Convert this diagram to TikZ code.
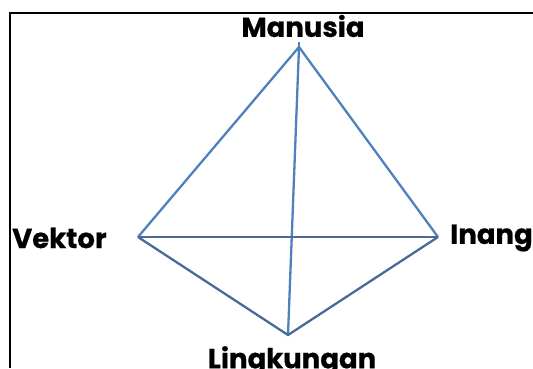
\documentclass[tikz,border=0pt]{standalone}
\usepackage{fontspec}
\setmainfont{Poppins}[BoldFont={* Bold}, BoldFeatures={FakeBold=0.6}]
\begin{document}
\begin{tikzpicture}[x=1pt,y=-1pt,
  lbl/.style={font=\bfseries\fontsize{27.5}{28}\selectfont, inner sep=0pt, text=black},
  upper/.style={draw={rgb,255:red,79;green,129;blue,189}, line width=2.3pt},
  lower/.style={draw={rgb,255:red,74;green,106;blue,154}, line width=2.3pt},
  frame/.style={draw=black, line width=2pt}]
\useasboundingbox (0,0) rectangle (533,368);
\fill[white] (0,0) rectangle (533,368);
\coordinate (tl) at (10,13);
\coordinate (tr) at (533,13);
\coordinate (bl) at (10,368);
\draw[frame] (tr) -- (tl) -- (bl);
\coordinate (M) at (299,47);
\coordinate (Mt) at (299,42);
\coordinate (V) at (138,237);
\coordinate (I) at (438,237);
\coordinate (L) at (288,335);
\node[lbl] (tM) at (303,26) {Manusia};
\node[lbl,anchor=west] (tV) at (12,238) {Vektor};
\node[lbl,anchor=west] (tI) at (450,238) {Inang};
\node[lbl] (tL) at (292,361) {Lingkungan};
\draw[upper] (V) -- (M) -- (I);
\draw[upper] (Mt) -- (M);
\draw[upper] (M) -- (L);
\draw[lower] (V) -- (I);
\draw[lower] (V) -- (L) -- (I);
\end{tikzpicture}
\end{document}
